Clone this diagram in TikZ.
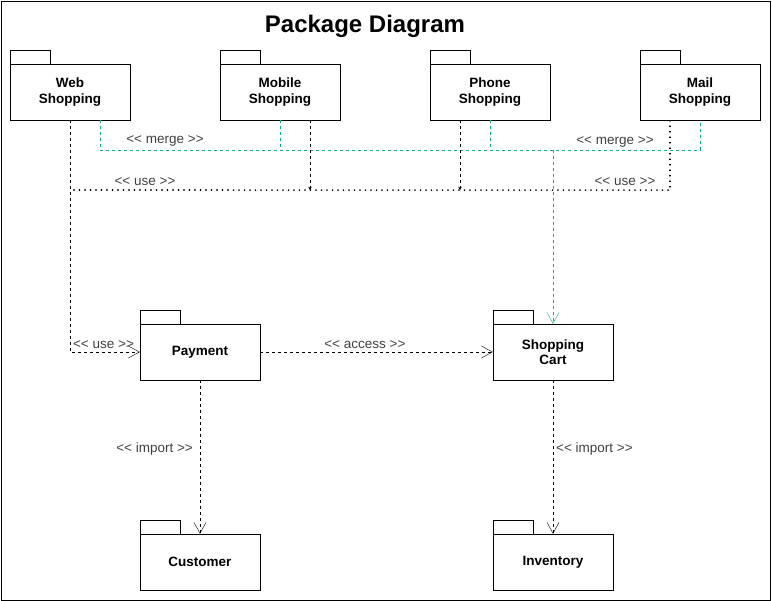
\documentclass[tikz,border=0pt]{standalone}
\usepackage{fontspec}
\setmainfont{Liberation Sans}[Ligatures=TeXOff]
\usetikzlibrary{arrows.meta}
\definecolor{mergecol}{RGB}{22,170,150}

\begin{document}
\begin{tikzpicture}[x=1pt,y=-1pt,
	pkg/.style={draw,rectangle,minimum width=120pt,minimum height=56pt,inner sep=0pt,align=center,font=\fontsize{13.5}{15.5}\selectfont\bfseries},
	lbl/.style={font=\fontsize{13.5}{15.5}\selectfont,text=black!75,inner sep=2pt},
	use/.style={dash pattern=on 3pt off 3pt},
	usedot/.style={line width=1.6pt,dash pattern=on 1.2pt off 4.3pt},
	merge/.style={mergecol,dash pattern=on 3pt off 3pt},
	open/.style={-{Straight Barb[length=11pt,width=12pt]}},
	small/.style={-{Stealth[length=3.5pt,width=3.5pt]}}]
	\useasboundingbox (0,0) rectangle (772,601);
	\draw (1,1) rectangle (770,600);
	\node[font=\fontsize{24}{28}\selectfont\bfseries] (title) at (365,26) {Package Diagram};
	% upper row
	\node[pkg] (web)    at (70,92)  {Web\\Shopping};
	\node[pkg] (mobile) at (280,92) {Mobile\\Shopping};
	\node[pkg] (phone)  at (490,92) {Phone\\Shopping};
	\node[pkg] (mail)   at (700,92) {Mail\\Shopping};
	% lower rows
	\node[pkg] (payment)  at (200,352) {Payment};
	\node[pkg] (cart)     at (553,352) {Shopping\\Cart};
	\node[pkg] (customer) at (200,562) {Customer};
	\node[pkg] (inventory) at (553,562) {Inventory};
	\foreach \p in {web,mobile,phone,mail,payment,cart,customer,inventory}
		\draw (\p.north west) rectangle ++(40,-14);
	% merge
	\draw[merge] ([xshift=30pt]web.south) -- ++(0,30) -| (mail.south);
	\draw[merge] (mobile.south) -- ++(0,30);
	\draw[merge] (phone.south) -- ++(0,30);
	\draw[merge,open] (cart.north |- 0,150) -- (cart.north);
	\node[lbl] (lm1) at (165,141) {<< merge >>};
	\node[lbl] (lm2) at (615,142) {<< merge >>};
	% use
	\draw[usedot] ([xshift=-30pt]mail.south) -- ++(0,70) -- (web.south |- 0,190);
	\draw[use,small] ([xshift=30pt]mobile.south) -- ++(0,70);
	\draw[use,small] ([xshift=-30pt]phone.south) -- ++(0,70);
	\node[lbl] (lu1) at (145,182) {<< use >>};
	\node[lbl] (lu2) at (625,182) {<< use >>};
	\draw[use,open] (web.south) |- (payment.west) node[lbl,pos=0.74,above,yshift=1pt] {<< use >>};
	% access / import
	\draw[use,open] (payment.east) -- (cart.west) node[lbl,pos=0.45,above,yshift=1pt] {<< access >>};
	\draw[use,open] (payment.south) -- (customer.north) node[lbl,pos=0.445,left=5pt] {<< import >>};
	\draw[use,open] (cart.south) -- (inventory.north) node[lbl,pos=0.445,right=1pt] {<< import >>};
\end{tikzpicture}
\end{document}
